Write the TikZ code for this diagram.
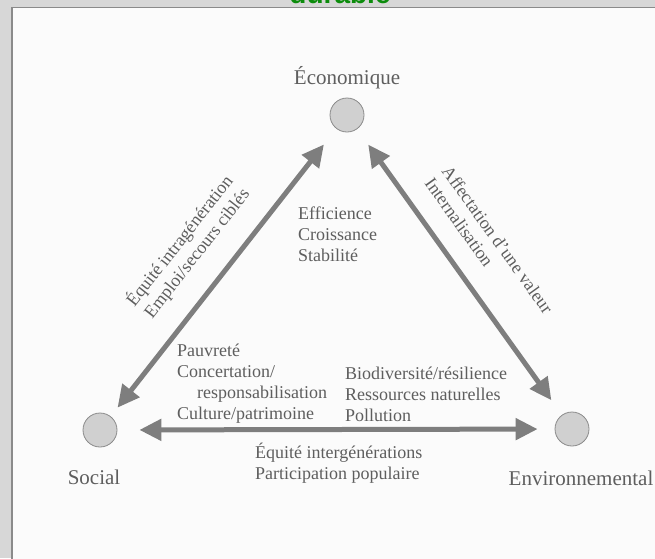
\documentclass[tikz,border=0pt]{standalone}
\usepackage{fontspec}
\setmainfont{Liberation Serif}
\newfontfamily\headfont{Liberation Sans}
\usepackage{tikz}
\usetikzlibrary{arrows.meta, positioning}

\definecolor{inkgray}{HTML}{5E5E5E}
\definecolor{linkgray}{HTML}{7E7E7E}
\definecolor{dotfill}{HTML}{D0D0D0}
\definecolor{dotline}{HTML}{8A8A8A}
\definecolor{framegray}{HTML}{D7D7D7}
\definecolor{papergray}{HTML}{FBFBFB}
\definecolor{titlegreen}{HTML}{0C8C0C}

\begin{document}
\begin{tikzpicture}[
		x=1pt, y=-1pt,
		pillar/.style={
			circle,
			draw=dotline,
			fill=dotfill,
			line width=0.8pt,
			minimum size=34pt,
			inner sep=0pt
		},
		pillarname/.style={
			text=inkgray,
			font=\fontsize{21}{24}\selectfont,
			inner sep=0pt
		},
		factors/.style={
			text=inkgray,
			font=\fontsize{18}{21}\selectfont,
			align=left,
			inner sep=0pt,
			anchor=north west
		},
		link/.style={
			line width=5pt,
			draw=linkgray,
			{Triangle[length=22pt, width=21pt]}-{Triangle[length=22pt, width=21pt]},
		}
	]

	\useasboundingbox (0,0) rectangle (655,558);
	\fill[framegray] (0,0) rectangle (655,558);
	\fill[papergray] (11,7) rectangle (665,565);
	\draw[dotline, line width=1.5pt] (12,565) -- (12,7.5) -- (665,7.5);
	\node[anchor=base, text=titlegreen, font=\headfont\bfseries\fontsize{28}{30}\selectfont] (title) at (340,3.5) {durable};

	\node[pillar] (E) at (347,115) {};
	\node[pillar] (S) at (100,430) {};
	\node[pillar] (V) at (572,429) {};

	\node[pillarname, above=8pt of E] (econname) {Économique};
	\node[pillarname, below=22pt of S, xshift=-6pt] (socname) {Social};
	\node[pillarname, below=24pt of V, xshift=9pt] (envname) {Environnemental};

	\draw[link, shorten <=11pt, shorten >=20pt] (S) -- node[sloped, pos=0.72, anchor=south east, yshift=21pt, text=inkgray, font=\fontsize{18}{21}\selectfont, align=right, inner sep=0pt] (socecon) {Équité intragénération\\Emploi/secours ciblés} (E);
	\draw[link, shorten <=19pt, shorten >=18pt] (E) -- node[sloped, pos=0.23, anchor=south west, yshift=20pt, text=inkgray, font=\fontsize{18}{21}\selectfont, align=left, inner sep=0pt] (econenv) {Affectation d'une valeur\\Internalisation} (V);
	\draw[link, shorten <=22pt, shorten >=17pt] (S) -- (V);

	\node[factors] (econfac) at (298,206.5) {Efficience\\Croissance\\Stabilité};
	\node[factors] (socfac) at (177,344) {Pauvreté\\Concertation/\\\hspace{20pt}responsabilisation\\Culture/patrimoine};
	\node[factors] (envfac) at (345,366.5) {Biodiversité/résilience\\Ressources naturelles\\Pollution};
	\node[factors] (socenv) at (255,443) {Équité intergénérations\\Participation populaire};

\end{tikzpicture}
\end{document}
